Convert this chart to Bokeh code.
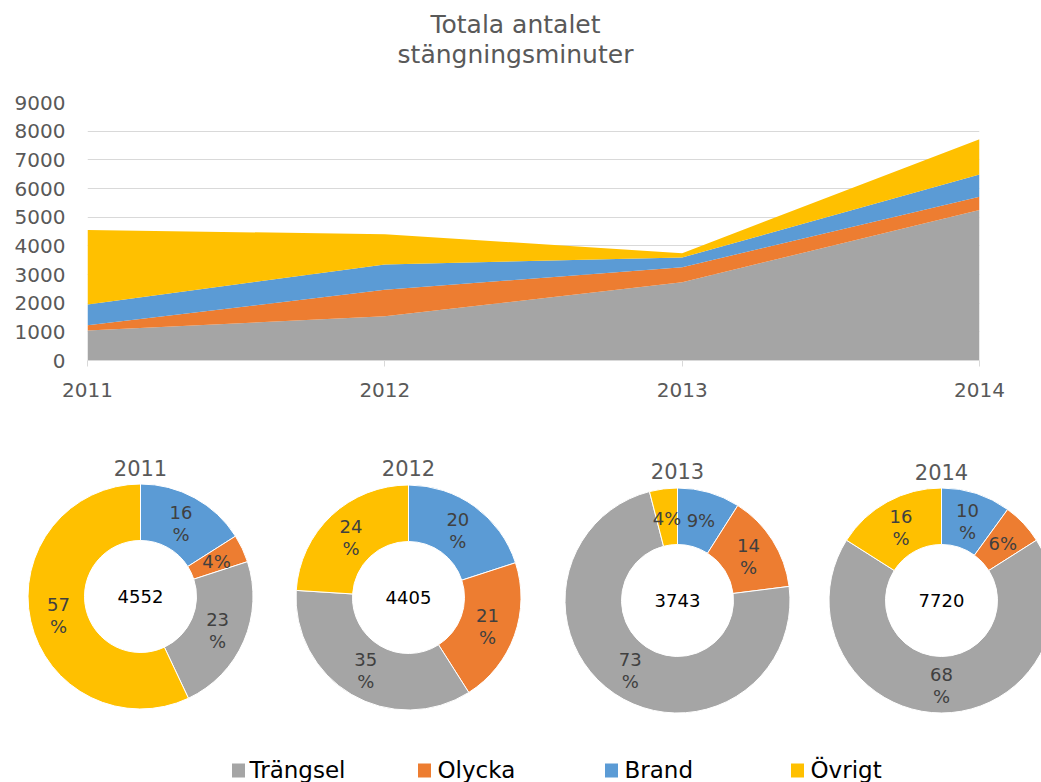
import math
from bokeh.plotting import figure
from bokeh.layouts import column
from bokeh.models import Range1d, FixedTicker, ColumnDataSource
from bokeh.embed import file_html
from bokeh.resources import INLINE
from bokeh.core.properties import value

# ---------------- data ----------------
years = [2011, 2012, 2013, 2014]
series = ["Trängsel", "Olycka", "Brand", "Övrigt"]
trangsel = [1047, 1542, 2732, 5250]
olycka = [182, 925, 524, 463]
brand = [728, 881, 337, 772]
ovrigt = [2595, 1057, 150, 1235]
totals = [4552, 4405, 3743, 7720]
y_ticks = [0, 1000, 2000, 3000, 4000, 5000, 6000, 7000, 8000, 9000]
title_lines = ["Totala antalet", "stängningsminuter"]
# donut order (clockwise from 12 o'clock) and label wrapping as in the reference
donut_order = ["Brand", "Olycka", "Trängsel", "Övrigt"]
wrap_flags = [
    [True, False, True, True],
    [True, True, True, True],
    [False, True, True, False],
    [True, False, True, True],
]

# ---------------- style ----------------
FONT = value("DejaVu Sans")
colors = {"Trängsel": "#A5A5A5", "Olycka": "#ED7D31", "Brand": "#5B9BD5", "Övrigt": "#FFC000"}
TXT = "#595959"
LBL = "#404040"
W = 1041
TOTAL_H = 782

# ---------------- title ----------------
H0 = 88
p0 = figure(width=W, height=H0, x_range=Range1d(0, W), y_range=Range1d(0, H0),
            min_border=0, toolbar_location=None, x_axis_location=None,
            y_axis_location=None, outline_line_color=None, output_backend="svg",
            title=None, frame_align=False)
p0.grid.visible = False
p0.text(x=[515, 515], y=[H0 - 24, H0 - 54], text=title_lines, text_font=FONT,
        text_font_size="25px", text_color=TXT, text_align="center",
        text_baseline="middle")

# ---------------- stacked area ----------------
H1 = 340
src = ColumnDataSource(dict(year=years, **{"Trängsel": trangsel, "Olycka": olycka,
                                           "Brand": brand, "Övrigt": ovrigt}))
p1 = figure(width=W, height=H1, x_range=Range1d(2011, 2014), y_range=Range1d(0, 9000),
            min_border_left=87, min_border_right=62, min_border_top=14,
            min_border_bottom=68, toolbar_location=None, output_backend="svg",
            outline_line_color=None, title=None, frame_align=False)
p1.varea_stack(stackers=series, x="year", color=[colors[s] for s in series], source=src)

p1.xgrid.visible = False
p1.ygrid.ticker = FixedTicker(ticks=y_ticks)
p1.ygrid.grid_line_color = "#D9D9D9"
p1.ygrid.grid_line_width = 1
p1.ygrid.level = "underlay"

p1.yaxis.ticker = FixedTicker(ticks=y_ticks)
p1.yaxis.axis_line_color = None
p1.yaxis.major_tick_line_color = None
p1.yaxis.minor_tick_line_color = None
p1.yaxis.major_tick_out = 0
p1.yaxis.minor_tick_out = 0
p1.yaxis.major_label_standoff = 22
p1.yaxis.major_label_text_font = "DejaVu Sans"
p1.yaxis.major_label_text_font_size = "20px"
p1.yaxis.major_label_text_color = TXT

p1.xaxis.ticker = FixedTicker(ticks=years)
p1.xaxis.axis_line_color = "#D9D9D9"
p1.xaxis.major_tick_line_color = "#D9D9D9"
p1.xaxis.minor_tick_line_color = None
p1.xaxis.major_tick_in = 0
p1.xaxis.major_tick_out = 6
p1.xaxis.major_label_standoff = 16
p1.xaxis.major_label_text_font = "DejaVu Sans"
p1.xaxis.major_label_text_font_size = "20px"
p1.xaxis.major_label_text_color = TXT

# ---------------- donuts ----------------
H2 = TOTAL_H - H0 - H1
p2 = figure(width=W, height=H2, x_range=Range1d(0, W), y_range=Range1d(0, H2),
            min_border=0, toolbar_location=None, x_axis_location=None,
            y_axis_location=None, outline_line_color=None, output_backend="svg",
            title=None, frame_align=False)
p2.grid.visible = False

# layout positions (page coords -> figure data coords)
BOT = TOTAL_H
centers_x = [140, 408, 677, 941]
centers_y = [BOT - 596, BOT - 597, BOT - 600, BOT - 600]
year_y = [BOT - 467, BOT - 467, BOT - 470, BOT - 471]
R_OUT, R_IN = 112.5, 56
R_LBL = 84

vals_by_year = {"Trängsel": trangsel, "Olycka": olycka, "Brand": brand, "Övrigt": ovrigt}

wx, wy, ws, we, wc = [], [], [], [], []
lx, ly, lt = [], [], []
for i, yr in enumerate(years):
    tot = totals[i]
    cum = 0.0
    for j, s in enumerate(donut_order):
        v = vals_by_year[s][i]
        f0 = cum / tot
        cum += v
        f1 = cum / tot
        wx.append(centers_x[i]); wy.append(centers_y[i])
        ws.append(math.pi / 2 - 2 * math.pi * f1)
        we.append(math.pi / 2 - 2 * math.pi * f0)
        wc.append(colors[s])
        pct = round(v / tot * 100)
        mid = (f0 + f1) / 2 * 2 * math.pi
        cx = centers_x[i] + R_LBL * math.sin(mid)
        cy = centers_y[i] + R_LBL * math.cos(mid)
        if wrap_flags[i][j]:
            lx += [cx, cx]; ly += [cy + 10, cy - 12]; lt += [str(pct), "%"]
        else:
            lx.append(cx); ly.append(cy - 1); lt.append(f"{pct}%")

p2.annular_wedge(x=wx, y=wy, inner_radius=R_IN, outer_radius=R_OUT,
                 start_angle=ws, end_angle=we, fill_color=wc,
                 line_color="white", line_width=1)
p2.text(x=lx, y=ly, text=lt, text_font=FONT, text_font_size="18px",
        text_color=LBL, text_align="center", text_baseline="middle")
p2.text(x=centers_x, y=centers_y, text=[str(t) for t in totals], text_font=FONT,
        text_font_size="18px", text_color="black", text_align="center",
        text_baseline="middle")
p2.text(x=centers_x, y=year_y, text=[str(y) for y in years], text_font=FONT,
        text_font_size="21px", text_color=TXT, text_align="center",
        text_baseline="middle")

# legend (manual, fixed pitch as in the reference)
leg_sq_x = [238, 424, 611, 797]
leg_tx_x = [249, 437, 624, 810]
p2.rect(x=leg_sq_x, y=[BOT - 770] * 4, width=13, height=14,
        fill_color=[colors[s] for s in series], line_color=None)
p2.text(x=leg_tx_x, y=[BOT - 769] * 4, text=series, text_font=FONT,
        text_font_size="23px", text_color="black", text_align="left",
        text_baseline="middle")

layout = column(p0, p1, p2)
open("out.html", "w").write(file_html(layout, INLINE))
